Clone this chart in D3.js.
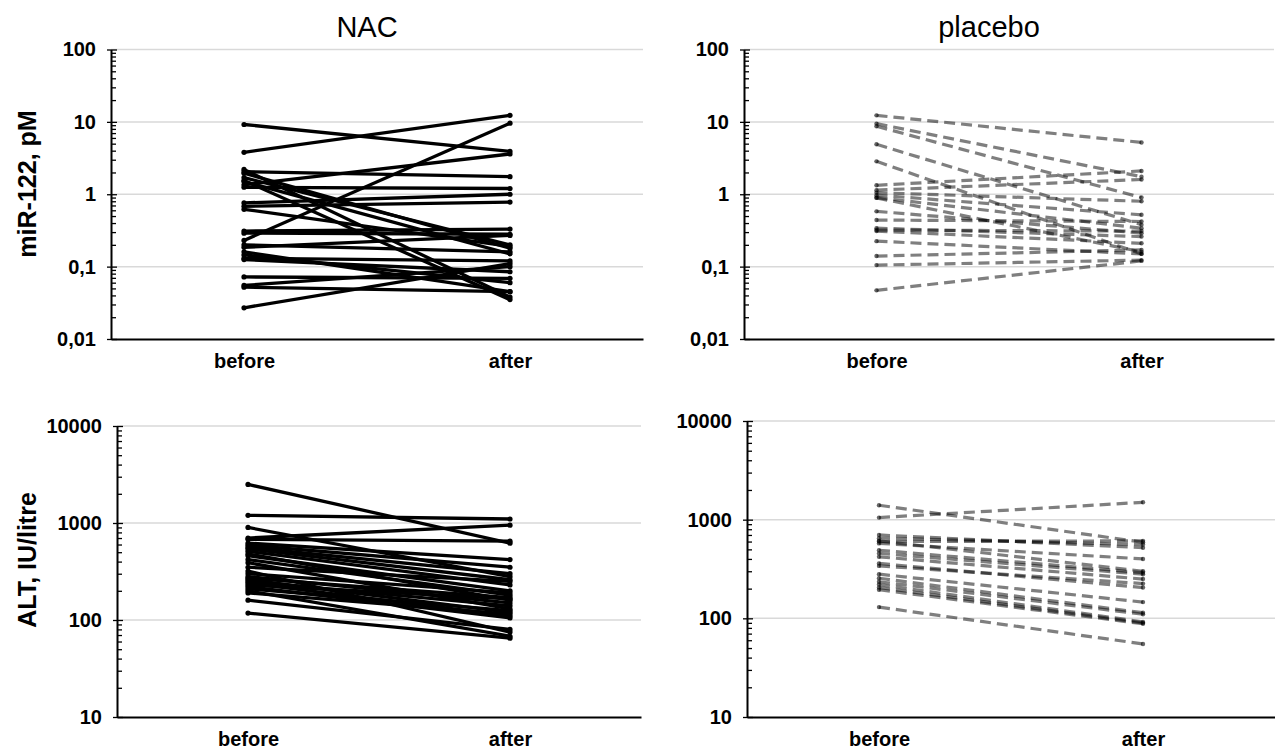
<!DOCTYPE html>
<html>
<head>
<meta charset="utf-8">
<script src="https://cdn.jsdelivr.net/npm/d3@7"></script>
<style>
  body { margin: 0; background: #fff; }
  svg { display: block; font-family: "Liberation Sans", Arial, sans-serif; }
</style>
</head>
<body>
<svg id="chart" width="1275" height="751"></svg>
<script>
// categories and axis ticks
const categories = ["before", "after"]
const mirTicks = [0.01, 0.1, 1, 10, 100]
const mirTickLabels = ["0,01", "0,1", "1", "10", "100"]
const altTicks = [10, 100, 1000, 10000]
const altTickLabels = ["10", "100", "1000", "10000"]

// miR-122 (pM), NAC group
const nacMirBefore = [9.2, 3.8, 2.2, 2.05, 1.95, 1.7, 1.55, 1.35, 1.25, 0.76, 0.68, 0.62, 0.31,
  0.29, 0.23, 0.2, 0.185, 0.16, 0.145, 0.13, 0.125, 0.072, 0.055, 0.052, 0.027, 1.5]
const nacMirAfter = [3.9, 12.3, 0.038, 1.75, 0.18, 0.2, 0.035, 3.6, 1.2, 1.0, 0.78, 0.19, 0.33,
  0.28, 9.6, 0.16, 0.27, 0.045, 0.06, 0.12, 0.085, 0.069, 0.1, 0.045, 0.11, 0.15]

// miR-122 (pM), placebo group
const plcMirBefore = [12.3, 9.45, 8.7, 4.9, 2.85, 1.33, 1.14, 1.05, 0.97, 0.89, 0.58, 0.44,
  0.34, 0.32, 0.31, 0.225, 0.14, 0.105, 0.047, 0.9]
const plcMirAfter = [5.2, 1.75, 0.9, 0.38, 0.15, 2.1, 1.6, 0.8, 0.52, 0.16, 0.29, 0.42,
  0.26, 0.31, 0.21, 0.15, 0.17, 0.123, 0.12, 0.34]

// ALT (IU/litre), NAC group
const nacAltBefore = [2500, 1200, 900, 700, 680, 620, 590, 560, 540, 510, 480, 460, 420, 390,
  350, 320, 300, 280, 270, 260, 250, 240, 230, 220, 210, 200, 190, 160, 118]
const nacAltAfter = [620, 1100, 280, 950, 650, 420, 350, 300, 260, 230, 160, 200, 180, 130,
  250, 75, 190, 150, 170, 120, 140, 110, 165, 105, 125, 68, 115, 80, 65]

// ALT (IU/litre), placebo group
const plcAltBefore = [1400, 1050, 700, 650, 610, 575, 490, 455, 420, 360, 340, 280, 255, 235,
  220, 205, 195, 130, 600]
const plcAltAfter = [590, 1500, 520, 560, 300, 400, 290, 280, 250, 205, 225, 146, 114, 110,
  92, 90, 88, 55, 610]

const svg = d3.select("#chart")

const panels = [
  { title: "NAC", titleX: 367, yTitle: "miR-122, pM", yTitleY: 184, x0: 111, x1: 643, yTop: 49.5, yBottom: 339,
    domain: [0.01, 100], ticks: mirTicks, labels: mirTickLabels,
    before: nacMirBefore, after: nacMirAfter, dashed: false, catY: 368 },
  { title: "placebo", titleX: 989, x0: 744, x1: 1274, yTop: 49.5, yBottom: 339,
    domain: [0.01, 100], ticks: mirTicks, labels: mirTickLabels,
    before: plcMirBefore, after: plcMirAfter, dashed: true, catY: 368 },
  { yTitle: "ALT, IU/litre", yTitleY: 560, x0: 117, x1: 641, yTop: 426, yBottom: 717,
    domain: [10, 10000], ticks: altTicks, labels: altTickLabels,
    before: nacAltBefore, after: nacAltAfter, dashed: false, catY: 746 },
  { x0: 747, x1: 1275, yTop: 421, yBottom: 717,
    domain: [10, 10000], ticks: altTicks, labels: altTickLabels,
    before: plcAltBefore, after: plcAltAfter, dashed: true, catY: 746 },
]

panels.forEach(drawPanel)

function drawPanel(p) {
  const xScale = d3.scalePoint().domain(categories).range([p.x0, p.x1]).padding(0.5)
  const yScale = d3.scaleLog().domain(p.domain).range([p.yBottom, p.yTop])

  const g = svg.append("g")

  // gridlines
  g.append("g")
    .selectAll("line")
    .data(p.ticks.slice(1))
    .join("line")
    .attr("x1", p.x0)
    .attr("x2", p.x1)
    .attr("y1", (d) => yScale(d))
    .attr("y2", (d) => yScale(d))
    .attr("stroke", "#d9d9d9")
    .attr("stroke-width", 1.5)

  // minor ticks (inside, to the right)
  const minor = []
  for (let e = Math.log10(p.domain[0]); e < Math.log10(p.domain[1]); e++) {
    for (let k = 1; k <= 9; k++) minor.push(k * Math.pow(10, e))
  }
  minor.push(p.domain[1])
  const minorAxis = d3.axisRight(yScale).tickValues(minor).tickSize(5).tickFormat("")
  const gm = g.append("g").attr("transform", `translate(${p.x0},0)`).call(minorAxis)
  gm.select(".domain").remove()
  gm.selectAll(".tick line")
    .attr("x2", (d) => (p.ticks.includes(d) ? 6 : 5))
    .attr("stroke-width", 1.3)

  // major ticks + labels
  const yAxis = d3.axisLeft(yScale)
    .tickValues(p.ticks)
    .tickFormat((d, i) => p.labels[i])
    .tickSize(4)
    .tickSizeOuter(0)
    .tickPadding(11)
  const gy = g.append("g").attr("transform", `translate(${p.x0},0)`).call(yAxis)
  gy.select(".domain").attr("stroke-width", 2)
  gy.selectAll(".tick line").attr("stroke-width", 1.3)
  gy.selectAll(".tick text")
    .attr("font-size", 20)
    .attr("font-weight", "bold")
    .attr("font-family", "Liberation Sans, Arial, sans-serif")
    .attr("fill", "#000")

  // category axis
  const xAxis = d3.axisBottom(xScale).tickSize(0).tickSizeOuter(0)
  const gx = g.append("g").attr("transform", `translate(0,${p.yBottom})`).call(xAxis)
  gx.select(".domain").attr("stroke-width", 2)
  gx.selectAll(".tick text")
    .attr("y", p.catY - p.yBottom)
    .attr("dy", 0)
    .attr("font-size", 20)
    .attr("font-weight", "bold")
    .attr("font-family", "Liberation Sans, Arial, sans-serif")
    .attr("fill", "#000")

  // subject lines
  const pairs = p.before.map((b, i) => [
    { cat: "before", v: b },
    { cat: "after", v: p.after[i] },
  ])
  const lineGenerator = d3.line()
    .x((d) => xScale(d.cat))
    .y((d) => yScale(d.v))

  const lines = g.append("g")
  lines.selectAll("path")
    .data(pairs)
    .join("path")
    .attr("d", lineGenerator)
    .attr("fill", "none")
    .attr("stroke", p.dashed ? "rgba(0,0,0,0.5)" : "#000")
    .attr("stroke-width", p.dashed ? 3.2 : 3.3)
    .attr("stroke-dasharray", p.dashed ? "11,6" : null)

  const dots = pairs.flat()
  lines.selectAll("circle")
    .data(dots)
    .join("circle")
    .attr("cx", (d) => xScale(d.cat))
    .attr("cy", (d) => yScale(d.v))
    .attr("r", p.dashed ? 2.2 : 2.6)
    .attr("fill", p.dashed ? "rgba(0,0,0,0.6)" : "#000")

  if (p.title) {
    svg.append("text")
      .attr("x", p.titleX)
      .attr("y", 37)
      .attr("text-anchor", "middle")
      .attr("font-size", 29)
      .text(p.title)
  }
  if (p.yTitle) {
    svg.append("text")
      .attr("transform", `translate(36,${p.yTitleY}) rotate(-90)`)
      .attr("text-anchor", "middle")
      .attr("font-size", 25)
      .attr("font-weight", "bold")
      .text(p.yTitle)
  }
}
</script>
</body>
</html>
